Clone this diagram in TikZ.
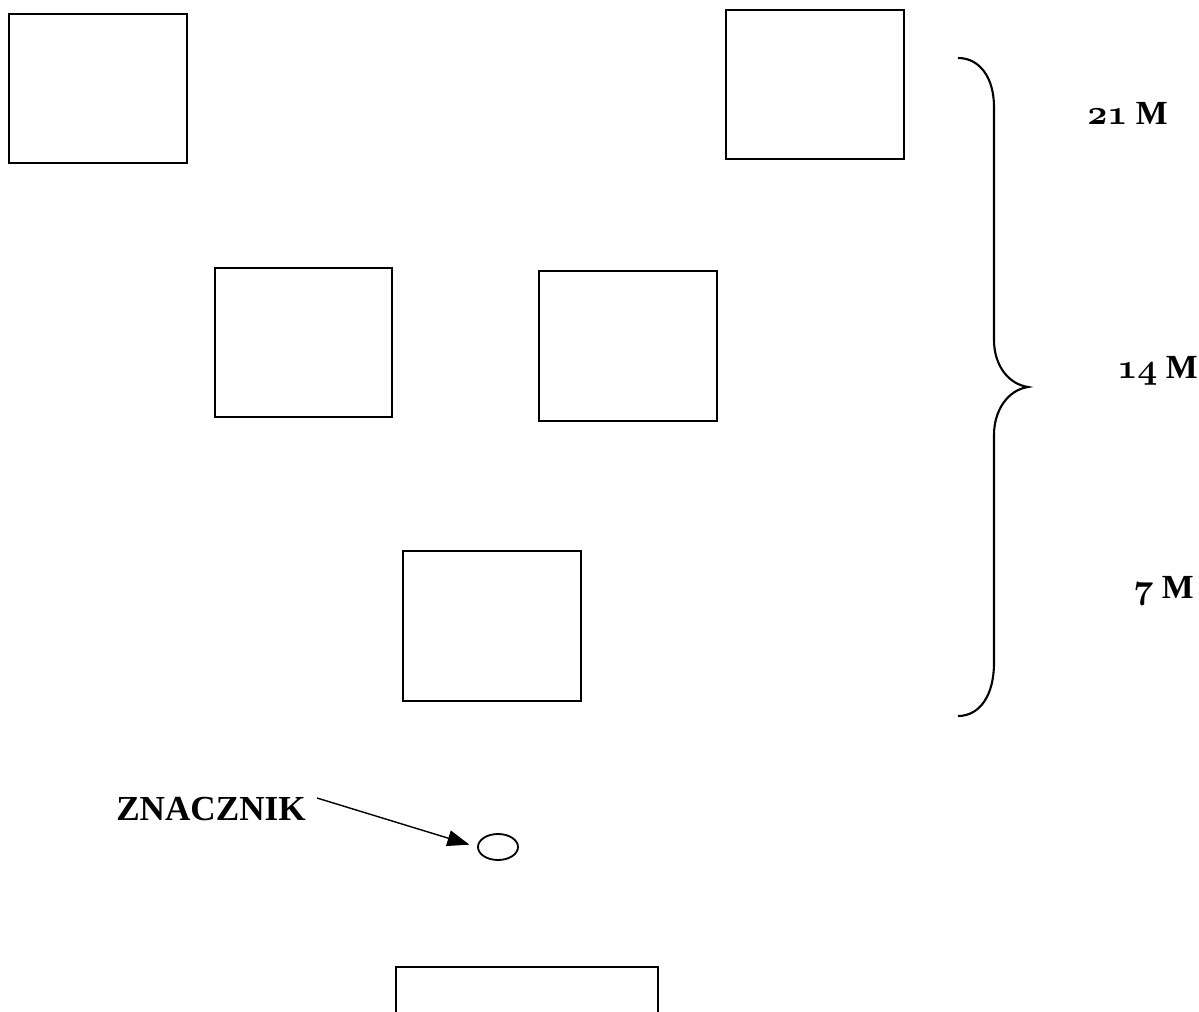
\documentclass[tikz,border=0pt]{standalone}
\usepackage{fontspec}
\setmainfont{Liberation Serif}
\usetikzlibrary{arrows.meta,shapes.geometric}
\newcommand\osnum[1]{{\usefont{OML}{cmm}{b}{it}\fontsize{27}{30}\selectfont#1}}
\tikzset{
	box/.style={line width=1.3pt},
	brace/.style={line width=1.5pt},
	lbl/.style={font=\fontsize{24}{28}\selectfont\bfseries, inner sep=0pt, anchor=base west},
	pointer/.style={line width=1pt, -{Triangle[length=0.55cm,width=0.4cm]}, shorten >=0.2cm}
}

\begin{document}
\begin{tikzpicture}[x=0.025cm,y=-0.025cm]
			%%%%% START %%%%%
			\useasboundingbox (0, 0) rectangle (1199, 1012);
			
			\draw[box] (9, 14) rectangle (187, 163);
			\draw[box] (726, 10) rectangle (904, 159);
			
			\draw[box] (215, 268) rectangle (392, 417);
			\draw[box] (539, 271) rectangle (717, 421);
			
			\draw[box] (403, 551) rectangle (581, 701);
			
			\draw[brace] (958, 58) .. controls (980, 58) and (994, 78) .. (994, 107)
				-- (994, 340) .. controls (994, 365) and (1008, 384) .. (1028, 387)
				.. controls (1008, 390) and (994, 410) .. (994, 435)
				-- (994, 663) .. controls (994, 695) and (980, 716) .. (958, 716);
			
			\node[lbl] (h21) at (1087, 125) {\osnum{21} M};
			\node[lbl] (h14) at (1117, 378) {\osnum{14} M};
			\node[lbl] (h7) at (1133, 598) {\osnum{7} M};
			
			\node[lbl, font=\fontsize{25}{29}\selectfont\bfseries] (znacznik) at (116, 820) {ZNACZNIK};
			\coordinate (tail) at (317, 798);
			\node[draw, ellipse, line width=1.3pt, minimum width=1cm, minimum height=0.65cm, inner sep=0pt] (marker) at (498, 847) {};
			\draw[pointer] (tail) -- (marker.west);
			
			\draw[box] (396, 1014) -- (396, 967) -- (658, 967) -- (658, 1014);
			
			%%%%% END %%%%%
\end{tikzpicture}
\end{document}
